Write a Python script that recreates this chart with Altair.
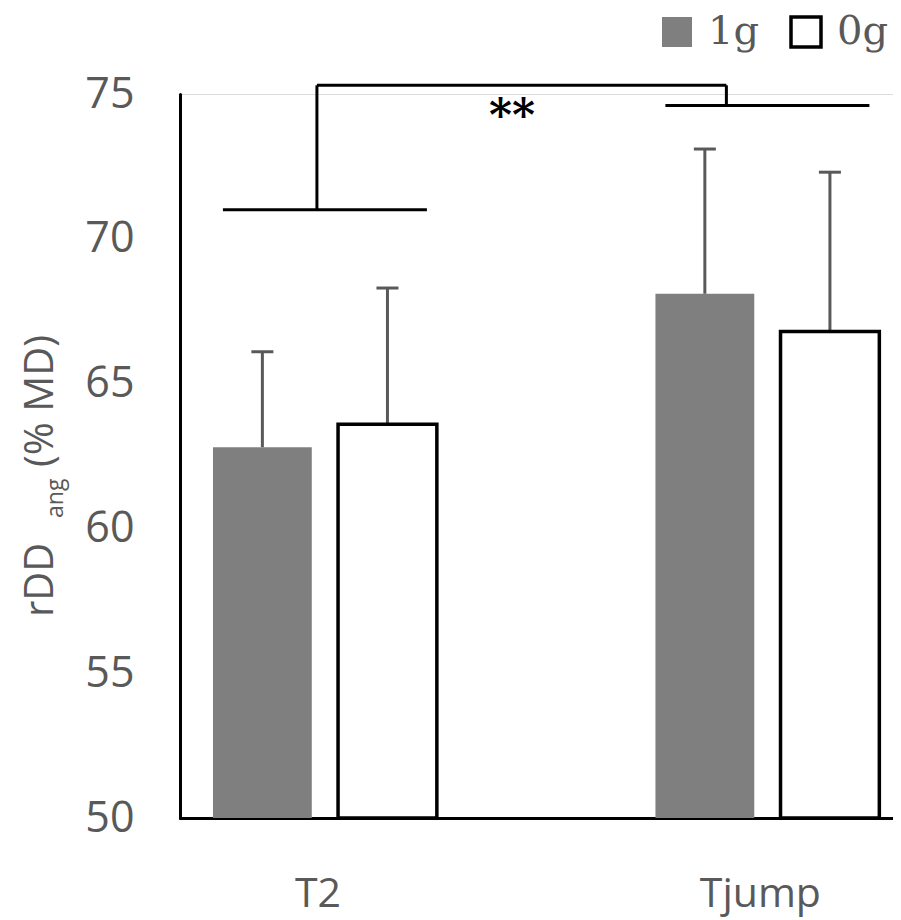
import altair as alt
import pandas as pd

# ---- data ----
conditions = ["T2", "T2", "Tjump", "Tjump"]
gravity = ["1g", "0g", "1g", "0g"]
mean_vals = [62.8, 63.6, 68.1, 66.8]
sd_vals = [3.3, 4.7, 5.0, 5.5]

category_order = ["T2", "Tjump"]
gravity_order = ["1g", "0g"]
y_ticks = [50, 55, 60, 65, 70, 75]

bracket_conditions = ["T2", "Tjump"]
bracket_levels = [71.0, 74.6]
bracket_top = 75.3
star_text = "**"
star_level = 74.5

GRAY = "#7f7f7f"
ERR = "#595959"
TXT = "#595959"
SANS = "Open Sans"
SERIF = "DejaVu Serif"

df = pd.DataFrame({"cond": conditions, "g": gravity, "mean": mean_vals, "sd": sd_vals})
df["upper"] = df["mean"] + df["sd"]
df["base"] = y_ticks[0]

br = pd.DataFrame({"cond": bracket_conditions, "level": bracket_levels})

x_scale = alt.Scale(domain=category_order, paddingInner=0.494, paddingOuter=0.0527, align=0.707)
xo_scale = alt.Scale(domain=gravity_order, paddingInner=0.21, paddingOuter=0)
y_scale = alt.Scale(domain=[50, 75], nice=False, zero=False)

x_enc = alt.X("cond:N", scale=x_scale, sort=category_order,
              axis=alt.Axis(title=None, labelAngle=0, ticks=False, domainColor="black",
                            domainWidth=3, labelFont=SANS, labelFontSize=41, labelColor=TXT,
                            labelPadding=56, labelOffset=-7, domainCap="round"))
y_enc = alt.Y("mean:Q", scale=y_scale,
              axis=alt.Axis(title=None, values=y_ticks, ticks=False, grid=False,
                            domainColor="black", domainWidth=3, labelFont=SANS,
                            labelFontSize=43, labelColor=TXT, labelPadding=46, domainCap="round"))
xo_enc = alt.XOffset("g:N", scale=xo_scale, sort=gravity_order)

base = alt.Chart(df)

err_rule = base.mark_rule(color=ERR, strokeWidth=3, opacity=1).encode(
    x=x_enc, xOffset=xo_enc, y=y_enc, y2="upper:Q")
err_cap = base.mark_tick(color=ERR, thickness=3, size=22, opacity=1).encode(
    x=x_enc, xOffset=xo_enc, y=alt.Y("upper:Q", scale=y_scale))

bars = base.mark_bar(strokeWidth=3.5, opacity=1).encode(
    x=x_enc, xOffset=xo_enc, y=y_enc, y2="base:Q",
    fill=alt.Fill("g:N", scale=alt.Scale(domain=gravity_order, range=[GRAY, "white"]),
                  legend=alt.Legend(title=None, orient="none", legendX=477, legendY=-82,
                                    direction="horizontal", symbolType="square",
                                    symbolSize=900, symbolStrokeWidth=3.5, labelFont=SERIF,
                                    labelFontSize=40, labelColor=TXT, columnPadding=24,
                                    labelOffset=11, padding=0, symbolOpacity=1)),
    stroke=alt.Stroke("g:N", scale=alt.Scale(domain=gravity_order,
                                             range=["rgba(0,0,0,0)", "black"])),
)

br_ticks = alt.Chart(br).mark_tick(color="black", thickness=3, size=204, opacity=1).encode(
    x=x_enc, y=alt.Y("level:Q", scale=y_scale))

t2_vert = alt.Chart(br[br.cond == "T2"]).mark_rule(color="black", strokeWidth=3, xOffset=-8).encode(
    x=x_enc, y=alt.Y("level:Q", scale=y_scale), y2=alt.datum(bracket_top))
tj_vert = alt.Chart(br[br.cond == "Tjump"]).mark_rule(color="black", strokeWidth=3, xOffset=-41).encode(
    x=x_enc, y=alt.Y("level:Q", scale=y_scale), y2=alt.datum(bracket_top))
top_df = pd.DataFrame({"a": ["T2"], "b": ["Tjump"], "lvl": [bracket_top]})
top_line = alt.Chart(top_df).mark_rule(color="black", strokeWidth=3, xOffset=-8, x2Offset=-41).encode(
    x=alt.X("a:N", scale=x_scale), x2="b:N", y=alt.Y("lvl:Q", scale=y_scale))

star_df = pd.DataFrame({"a": ["T2"], "lvl": [star_level], "t": [star_text]})
star = alt.Chart(star_df).mark_text(font=SERIF, fontSize=44, fontWeight="bold", color="black",
                                    dx=187, dy=10, baseline="middle").encode(
    x=alt.X("a:N", scale=x_scale), y=alt.Y("lvl:Q", scale=y_scale), text="t:N")

# y-axis title with subscript
t1 = alt.Chart(pd.DataFrame({"t": ["rDD"]})).mark_text(
    font=SANS, fontSize=40, color=TXT, angle=270, align="left", baseline="alphabetic").encode(
    text="t:N", x=alt.value(-127), y=alt.value(523))
t2 = alt.Chart(pd.DataFrame({"t": ["ang"]})).mark_text(
    font=SANS, fontSize=23, color=TXT, angle=270, align="left", baseline="alphabetic").encode(
    text="t:N", x=alt.value(-117), y=alt.value(424))
t3 = alt.Chart(pd.DataFrame({"t": ["(% MD)"]})).mark_text(
    font=SANS, fontSize=40, color=TXT, angle=270, align="left", baseline="alphabetic").encode(
    text="t:N", x=alt.value(-127), y=alt.value(373))

chart = alt.layer(err_rule, err_cap, bars, br_ticks, t2_vert, tj_vert, top_line, star, t1, t2, t3).properties(
    width=713, height=724,
    padding={"left": 172, "top": 86, "right": 0, "bottom": 102},
    autosize=alt.AutoSizeParams(type="none"),
).configure_view(stroke=None).configure(background="white")

chart.save("out.html", embed_options={"renderer": "svg", "actions": False})
